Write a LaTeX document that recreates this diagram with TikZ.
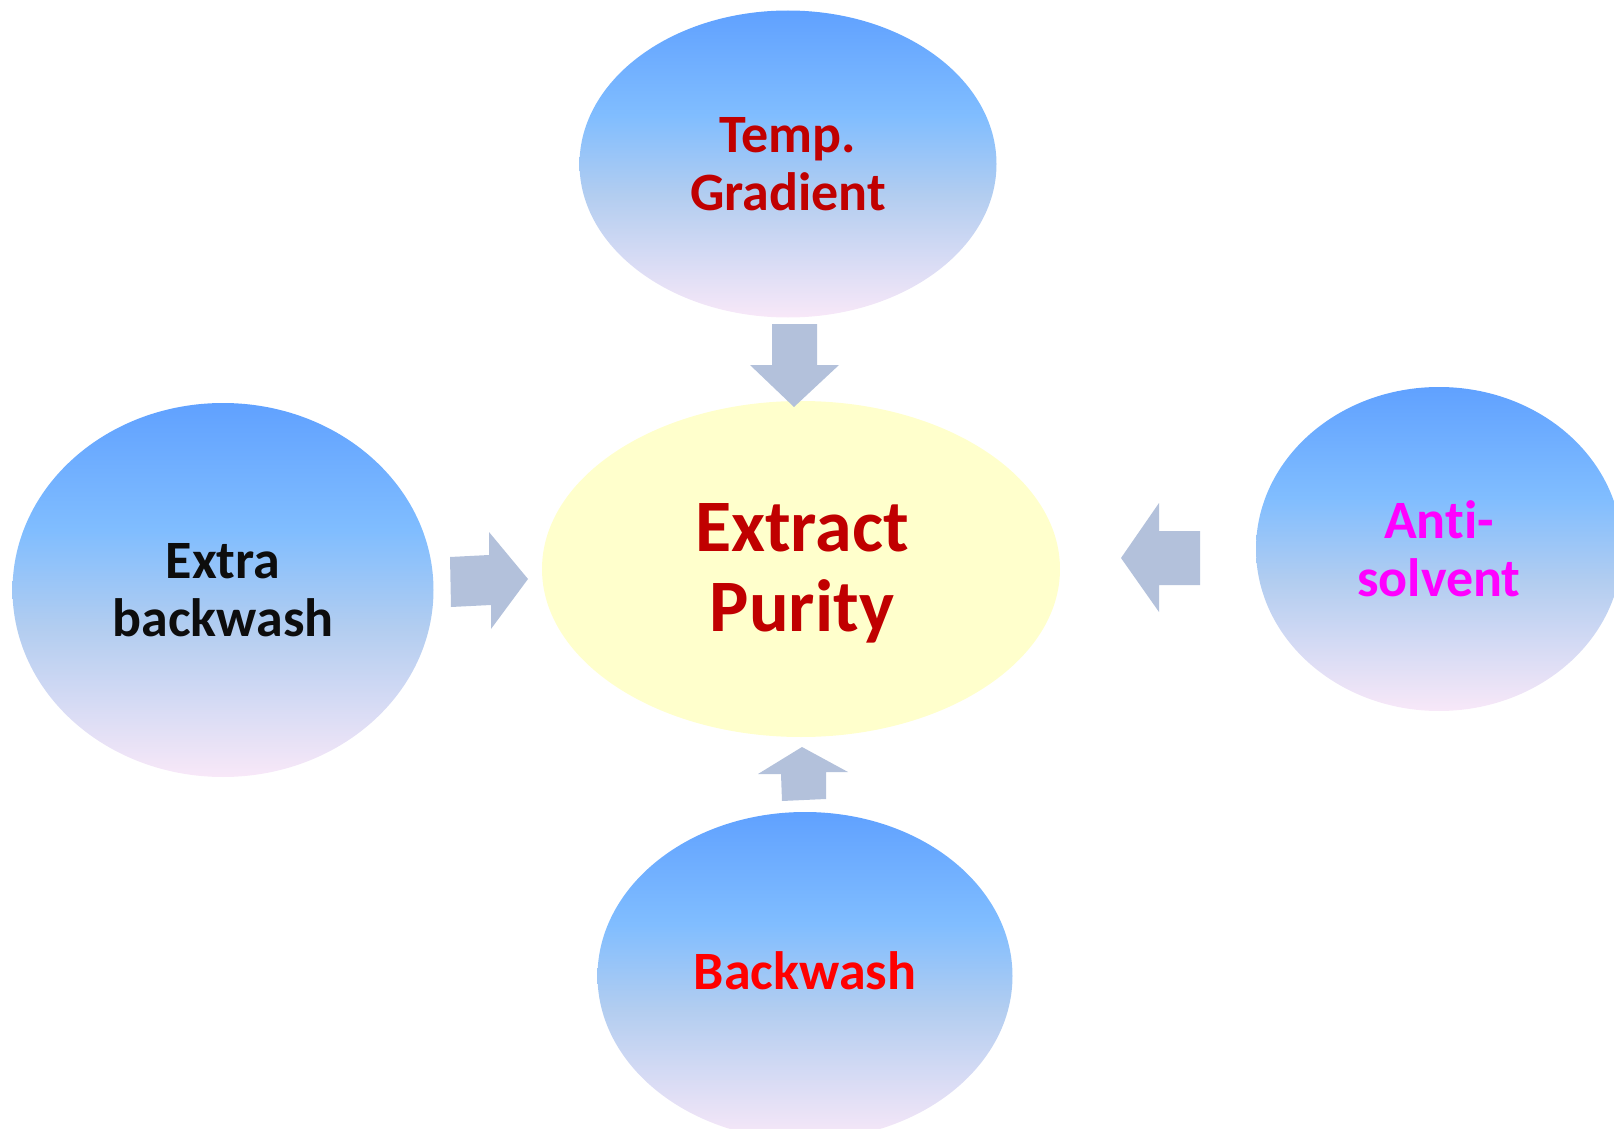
\documentclass[tikz,border=0pt]{standalone}
\usepackage{fontspec}
\setmainfont{Carlito}[Ligatures={NoCommon}]
\usetikzlibrary{shapes.geometric}

\definecolor{bubbleTop}{RGB}{96,161,255}
\definecolor{bubbleLight}{RGB}{128,189,255}
\definecolor{bubbleMid}{RGB}{178,205,240}
\definecolor{bubbleBot}{RGB}{248,232,248}
\definecolor{coreFill}{RGB}{255,255,204}
\definecolor{arrowFill}{RGB}{179,193,219}
\definecolor{darkRed}{RGB}{192,0,0}
\definecolor{magentaText}{RGB}{255,0,255}
\definecolor{redText}{RGB}{255,0,0}
\definecolor{nearBlack}{RGB}{13,13,13}

\pgfdeclareverticalshading{bubble}{100bp}{%
  color(0bp)=(bubbleBot); color(25bp)=(bubbleBot);
  color(45bp)=(bubbleMid); color(58bp)=(bubbleLight);
  color(75bp)=(bubbleTop); color(100bp)=(bubbleTop)}

\tikzset{
  factor/.style={ellipse, shading=bubble, draw=none, inner sep=0pt,
    align=center, font=\bfseries\fontsize{27pt}{29pt}\selectfont},
  core/.style={ellipse, fill=coreFill, draw=none, inner sep=0pt},
  blockarrow/.style={fill=arrowFill, draw=none}
}

\begin{document}
\begin{tikzpicture}[x=0.5pt, y=-0.5pt]
  \useasboundingbox (0,0) rectangle (1614,1129);
  \clip (0,0) rectangle (1614,1129);

  % central ellipse
  \node[core, minimum width=259pt, minimum height=168pt] (purity) at (801,569) {};
  \node[text=darkRed, align=center, inner sep=0pt,
    font=\bfseries\fontsize{37pt}{40pt}\selectfont] (puritytext) at (802,573) {Extract\\Purity};

  % surrounding factors
  \node[factor, text=darkRed, minimum width=208.5pt, minimum height=153.5pt] (temp) at (788,164) {Temp.\\Gradient};
  \node[factor, text=nearBlack, minimum width=210.5pt, minimum height=187pt] (extra) at (223,590) {Extra\\backwash};
  \node[factor, text=magentaText, minimum width=183pt, minimum height=162pt] (anti) at (1439,549) {Ant\kern0pt i-\\solvent};
  \node[factor, minimum width=207.5pt, minimum height=164pt] (back) at (805,976) {};
  \node[text=redText, inner sep=0pt,
    font=\bfseries\fontsize{27pt}{29pt}\selectfont] (backtext) at (805,971) {Backwash};

  % block arrows pointing into the centre
  \fill[blockarrow] (772,324) -- (817,324) -- (817,365) -- (839,365) -- (794,407)
    -- (750,365) -- (772,365) -- cycle;
  \fill[blockarrow] (450,557) -- (489,555) -- (489,532) -- (528,579) -- (491,629)
    -- (491,605) -- (451,607) -- cycle;
  \fill[blockarrow] (1200,531) -- (1159,531) -- (1159,503) -- (1121,558) -- (1159,612)
    -- (1159,585) -- (1200,585) -- cycle;
  \fill[blockarrow] (782,801) -- (781,774) -- (758,774) -- (802,747) -- (848,772)
    -- (826,772) -- (826,799) -- cycle;
\end{tikzpicture}
\end{document}
